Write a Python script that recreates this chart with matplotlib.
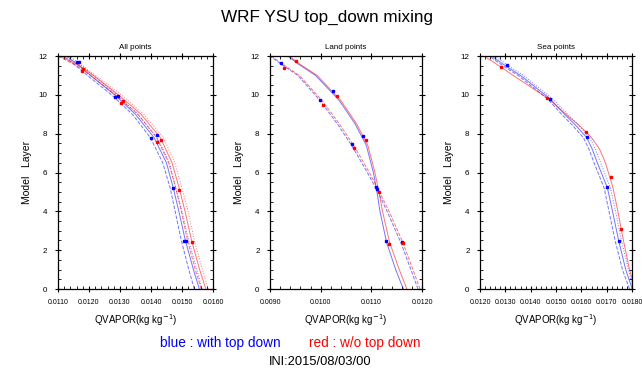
import matplotlib
matplotlib.use("Agg")
import matplotlib.pyplot as plt
from matplotlib.ticker import MultipleLocator, FormatStrFormatter

plt.rcParams['font.family'] = ['Liberation Sans', 'DejaVu Sans']

## panel 1 : all points
lev1 = [0, 1, 2.5, 4, 5.2, 6.5, 7.8, 9, 10, 11, 11.5, 12]
all_blue = [
    [0.01556, 0.01537, 0.01511, 0.01490, 0.01472, 0.01450, 0.01410, 0.01350, 0.01283, 0.01205, 0.01168, 0.01128],
    [0.01540, 0.01522, 0.01498, 0.01478, 0.01462, 0.01438, 0.01398, 0.01340, 0.01273, 0.01195, 0.01158, 0.01118],
    [0.01565, 0.01548, 0.01522, 0.01500, 0.01480, 0.01460, 0.01420, 0.01358, 0.01290, 0.01213, 0.01176, 0.01138],
]
all_red = [
    [0.01577, 0.01557, 0.01531, 0.01510, 0.01491, 0.01468, 0.01430, 0.01368, 0.01295, 0.01215, 0.01170, 0.01105],
    [0.01562, 0.01543, 0.01518, 0.01498, 0.01480, 0.01457, 0.01418, 0.01358, 0.01285, 0.01205, 0.01160, 0.01100],
    [0.01585, 0.01566, 0.01540, 0.01520, 0.01500, 0.01477, 0.01440, 0.01377, 0.01304, 0.01222, 0.01180, 0.01112],
]
all_blue_mx = [0.01162, 0.01168, 0.01285, 0.01295, 0.01400, 0.01418, 0.01472, 0.01508, 0.01514]
all_blue_my = [11.68, 11.68, 9.90, 9.92, 7.80, 7.92, 5.22, 2.47, 2.47]
all_red_mx = [0.01176, 0.01182, 0.01302, 0.01310, 0.01421, 0.01431, 0.01491, 0.01531]
all_red_my = [11.24, 11.35, 9.56, 9.68, 7.55, 7.67, 5.10, 2.44]

## panel 2 : land points
lev2 = [0, 1, 2.4, 4, 5, 6, 7.4, 8.5, 9.7, 11, 11.6, 12]
land_blue = [
    [0.01163, 0.01148, 0.01130, 0.01117, 0.01111, 0.01104, 0.01090, 0.01068, 0.01037, 0.00990, 0.00955, 0.00935],
    [0.01192, 0.01178, 0.01158, 0.01131, 0.01113, 0.01092, 0.01061, 0.01033, 0.00999, 0.00955, 0.00921, 0.00900],
]
land_red = [
    [0.01170, 0.01155, 0.01136, 0.01122, 0.01115, 0.01107, 0.01093, 0.01071, 0.01040, 0.00993, 0.00958, 0.00938],
    [0.01196, 0.01182, 0.01162, 0.01135, 0.01116, 0.01096, 0.01065, 0.01037, 0.01003, 0.00958, 0.00924, 0.00902],
]
land_blue_mx = [0.01024, 0.01083, 0.01110, 0.01129, 0.00921, 0.00999, 0.01061, 0.01111, 0.01160]
land_blue_my = [10.20, 7.88, 5.27, 2.47, 11.62, 9.72, 7.45, 5.15, 2.40]
land_red_mx = [0.00951, 0.01032, 0.01089, 0.01115, 0.01135, 0.00928, 0.01004, 0.01066, 0.01162]
land_red_my = [11.74, 9.96, 7.67, 4.98, 2.30, 11.37, 9.48, 7.25, 2.38]

## panel 3 : sea points
lev3 = [0, 1, 2.5, 4, 5.2, 6.5, 7.2, 7.8, 8.4, 9, 9.8, 11, 11.5, 12]
sea_blue = [
    [0.01801, 0.01775, 0.01747, 0.01723, 0.01703, 0.01663, 0.01643, 0.01621, 0.01580, 0.01534, 0.01476, 0.01360, 0.01300, 0.01246],
    [0.01790, 0.01762, 0.01733, 0.01709, 0.01690, 0.01650, 0.01630, 0.01608, 0.01567, 0.01522, 0.01466, 0.01350, 0.01290, 0.01236],
    [0.01805, 0.01786, 0.01758, 0.01735, 0.01715, 0.01676, 0.01655, 0.01633, 0.01592, 0.01546, 0.01486, 0.01372, 0.01312, 0.01258],
]
sea_red = [
    [0.01812, 0.01790, 0.01766, 0.01744, 0.01725, 0.01695, 0.01672, 0.01640, 0.01594, 0.01539, 0.01470, 0.01331, 0.01275, 0.01216],
]
sea_blue_mx = [0.01308, 0.01476, 0.01621, 0.01703, 0.01747]
sea_blue_my = [11.54, 9.79, 7.81, 5.24, 2.49]
sea_red_mx = [0.01282, 0.01464, 0.01618, 0.01716, 0.01758]
sea_red_my = [11.42, 9.86, 8.10, 5.79, 3.08]

styles = ['-', '--', ':']

fig = plt.figure(figsize=(6.42, 3.71), dpi=100)

panels = [
    ("All points", lev1, all_blue, all_red, all_blue_mx, all_blue_my, all_red_mx, all_red_my,
     (0.0110, 0.0160), [0.0903, 0.221, 0.2414, 0.628]),
    ("Land points", lev2, land_blue, land_red, land_blue_mx, land_blue_my, land_red_mx, land_red_my,
     (0.0090, 0.0120), [0.4206, 0.221, 0.2368, 0.628]),
    ("Sea points", lev3, sea_blue, sea_red, sea_blue_mx, sea_blue_my, sea_red_mx, sea_red_my,
     (0.0120, 0.0180), [0.7477, 0.221, 0.2368, 0.628]),
]

for (name, lev, blues, reds, bmx, bmy, rmx, rmy, xlim, pos) in panels:
    ax = fig.add_axes(pos)
    for i, xs in enumerate(blues):
        ax.plot(xs, lev, color='blue', linestyle=styles[i % 3], linewidth=0.7, alpha=0.55)
    for i, xs in enumerate(reds):
        ax.plot(xs, lev, color='red', linestyle=styles[i % 3], linewidth=0.7, alpha=0.55)
    ax.plot(bmx, bmy, linestyle='none', marker='s', markersize=1.8, color='blue')
    ax.plot(rmx, rmy, linestyle='none', marker='s', markersize=1.6, color='red')

    ax.set_xlim(*xlim)
    ax.set_ylim(0, 12)
    ax.xaxis.set_major_locator(MultipleLocator(0.001))
    ax.xaxis.set_minor_locator(MultipleLocator(0.0002))
    ax.xaxis.set_major_formatter(FormatStrFormatter('%.4f'))
    ax.yaxis.set_major_locator(MultipleLocator(2))
    ax.yaxis.set_minor_locator(MultipleLocator(0.5))
    ax.tick_params(which='major', direction='inout', length=5, width=0.8,
                   top=True, right=True, pad=5)
    ax.tick_params(axis='x', which='major', labelsize=5)
    ax.tick_params(axis='y', which='major', labelsize=5.8)
    ax.tick_params(which='minor', direction='in', length=2.5, width=0.6, top=True, right=True)
    for sp in ax.spines.values():
        sp.set_linewidth(0.9)
    ax.set_title(name, fontsize=5.8, pad=5)
    ax.set_xlabel('QVAPOR(kg kg$^{-1}$)', fontsize=7, labelpad=4)
    ax.set_ylabel('Model   Layer', fontsize=7.5, labelpad=5)

fig.text(0.51, 0.952, 'WRF YSU top_down mixing', ha='center', va='center', fontsize=12.3)
fig.text(0.343, 0.075, 'blue : with top down', ha='center', va='center', fontsize=9.8, color='blue')
fig.text(0.568, 0.075, 'red : w/o top down', ha='center', va='center', fontsize=9.8, color='red')
fig.text(0.498, 0.024, 'INI:2015/08/03/00', ha='center', va='center', fontsize=9.3)

fig.savefig('out.png', dpi=100)
